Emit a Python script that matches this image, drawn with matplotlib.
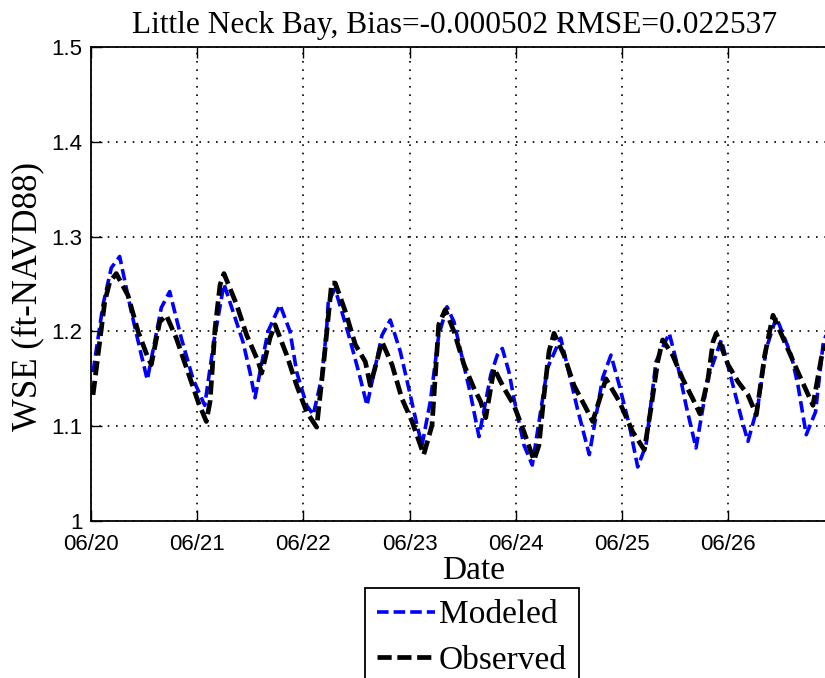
import numpy as np
import matplotlib
matplotlib.use("Agg")
import matplotlib.pyplot as plt

obs_days = [0.019, 0.129, 0.176, 0.238, 0.348, 0.443, 0.537, 0.568, 0.647, 0.709,
            0.803, 0.913, 1.008, 1.086, 1.121, 1.168, 1.215, 1.252, 1.372, 1.466,
            1.575, 1.607, 1.685, 1.733, 1.843, 1.937, 2.031, 2.125, 2.194, 2.266,
            2.300, 2.395, 2.489, 2.583, 2.630, 2.740, 2.834, 2.928, 3.023, 3.133,
            3.211, 3.274, 3.336, 3.418, 3.512, 3.606, 3.669, 3.717, 3.795, 3.889,
            3.983, 4.077, 4.171, 4.218, 4.266, 4.313, 4.360, 4.454, 4.548, 4.661,
            4.724, 4.849, 4.975, 5.101, 5.210, 5.273, 5.336, 5.383, 5.477, 5.571,
            5.666, 5.734, 5.810, 5.857, 5.888, 5.998, 6.092, 6.186, 6.265, 6.344,
            6.422, 6.532, 6.657, 6.798, 6.877, 6.960]
obs_wse = [1.133, 1.231, 1.252, 1.261, 1.238, 1.200, 1.172, 1.165, 1.210, 1.217,
           1.193, 1.157, 1.126, 1.105, 1.126, 1.203, 1.249, 1.261, 1.228, 1.196,
           1.168, 1.156, 1.193, 1.207, 1.175, 1.143, 1.115, 1.099, 1.170, 1.251,
           1.251, 1.221, 1.186, 1.168, 1.143, 1.189, 1.165, 1.129, 1.105, 1.070,
           1.101, 1.207, 1.223, 1.200, 1.165, 1.140, 1.126, 1.109, 1.161, 1.140,
           1.122, 1.094, 1.064, 1.080, 1.133, 1.179, 1.198, 1.175, 1.143, 1.119,
           1.105, 1.150, 1.126, 1.094, 1.075, 1.119, 1.168, 1.191, 1.175, 1.150,
           1.129, 1.113, 1.150, 1.189, 1.198, 1.165, 1.147, 1.133, 1.112, 1.175,
           1.217, 1.189, 1.157, 1.122, 1.172, 1.200]

mod_days = [0.019, 0.113, 0.191, 0.270, 0.379, 0.474, 0.530, 0.662, 0.741, 0.850,
            0.960, 1.071, 1.158, 1.252, 1.431, 1.497, 1.544, 1.667, 1.780, 1.874,
            1.937, 2.031, 2.093, 2.172, 2.219, 2.234, 2.298, 2.427, 2.521, 2.599,
            2.740, 2.818, 2.912, 2.992, 3.070, 3.117, 3.195, 3.274, 3.352, 3.418,
            3.575, 3.653, 3.764, 3.826, 3.873, 3.936, 3.983, 4.077, 4.155, 4.297,
            4.423, 4.579, 4.692, 4.818, 4.896, 4.975, 5.069, 5.148, 5.226, 5.320,
            5.445, 5.539, 5.603, 5.697, 5.810, 5.935, 6.029, 6.123, 6.186, 6.280,
            6.359, 6.453, 6.594, 6.657, 6.735, 6.822, 6.893, 6.960]
mod_wse = [1.157, 1.228, 1.267, 1.279, 1.221, 1.175, 1.149, 1.225, 1.242, 1.193,
           1.150, 1.122, 1.190, 1.250, 1.189, 1.157, 1.130, 1.200, 1.228, 1.200,
           1.157, 1.122, 1.112, 1.151, 1.203, 1.231, 1.245, 1.196, 1.157, 1.122,
           1.196, 1.212, 1.179, 1.140, 1.101, 1.080, 1.126, 1.196, 1.226, 1.210,
           1.133, 1.089, 1.154, 1.175, 1.182, 1.157, 1.129, 1.080, 1.059, 1.161,
           1.193, 1.119, 1.070, 1.151, 1.175, 1.143, 1.101, 1.057, 1.080, 1.168,
           1.198, 1.157, 1.122, 1.077, 1.151, 1.191, 1.150, 1.109, 1.084, 1.122,
           1.182, 1.215, 1.175, 1.143, 1.091, 1.115, 1.186, 1.210]

date_labels = ['06/20', '06/21', '06/22', '06/23', '06/24', '06/25', '06/26']
y_ticks = [1.0, 1.1, 1.2, 1.3, 1.4, 1.5]
y_labels = ['1', '1.1', '1.2', '1.3', '1.4', '1.5']

serif = 'Liberation Serif'
sans = 'Liberation Sans'

fig = plt.figure(figsize=(8.25, 6.78), dpi=100)
# axes runs past the right edge of the image, like the cropped original
ax = fig.add_axes([91 / 825, 157 / 678, 7.2 * 106.2 / 825, 474 / 678])

ax.plot(mod_days, mod_wse, color='#0000ff', lw=2.6, dashes=(3.2, 1.4), label='Modeled')
ax.plot(obs_days, obs_wse, color='black', lw=3.4, dashes=(3.0, 1.2), label='Observed')

ax.set_xlim(0, 7.2)
ax.set_ylim(1.0, 1.5)
ax.set_xticks(range(len(date_labels)))
ax.set_xticklabels(date_labels)
ax.set_yticks(y_ticks)
ax.set_yticklabels(y_labels)
ax.tick_params(direction='in', length=8, width=1, top=True, right=True,
               labelsize=16)
ax.tick_params(axis='x', pad=9)
ax.tick_params(axis='y', pad=6)
for lab in ax.get_xticklabels() + ax.get_yticklabels():
    lab.set_fontfamily(sans)

ax.grid(True, color='black', linestyle=(0, (1, 4)), linewidth=1.2)
for sp in ax.spines.values():
    sp.set_linewidth(1.3)

ax.set_title('Little Neck Bay, Bias=-0.000502 RMSE=0.022537',
             fontfamily=serif, fontsize=22.6, pad=10, x=0.476)
ax.set_xlabel('Date', fontfamily=serif, fontsize=24, labelpad=1)
ax.set_ylabel('WSE (ft-NAVD88)', fontfamily=serif, fontsize=25)
ax.yaxis.set_label_coords(-0.061, 0.473)

leg = ax.legend(loc='upper left', bbox_to_anchor=(365 / 825, 90 / 678),
                bbox_transform=fig.transFigure, borderaxespad=0,
                prop={'family': serif, 'size': 24}, handlelength=1.75,
                handletextpad=0.12, labelspacing=0.45, borderpad=0.35,
                fancybox=False, framealpha=1)
leg.get_frame().set_edgecolor('black')
leg.get_frame().set_linewidth(1.3)

fig.savefig('out.png', dpi=100)
